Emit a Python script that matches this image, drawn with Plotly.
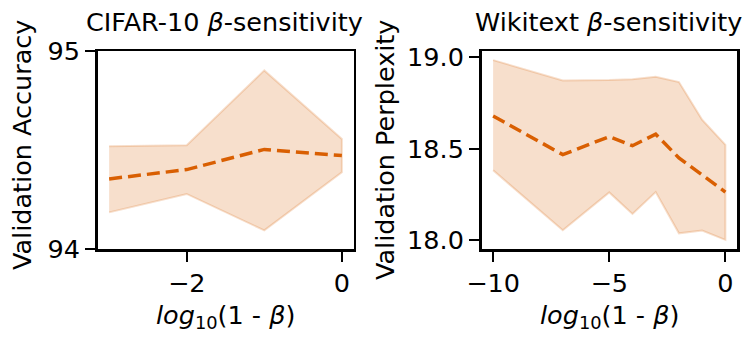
import plotly.graph_objects as go

# CIFAR-10 data
cifar_x = [-3, -2, -1, 0]
cifar_mean = [94.354, 94.401, 94.503, 94.472]
cifar_upper = [94.519, 94.524, 94.902, 94.556]
cifar_lower = [94.185, 94.278, 94.094, 94.388]

# Wikitext data
wiki_x = [-10, -7, -5, -4, -3, -2, -1, 0]
wiki_mean = [18.679, 18.467, 18.566, 18.516, 18.579, 18.449, 18.356, 18.262]
wiki_upper = [18.985, 18.874, 18.876, 18.880, 18.894, 18.865, 18.658, 18.521]
wiki_lower = [18.381, 18.053, 18.260, 18.142, 18.262, 18.036, 18.051, 18.000]

cifar_xticks = [-2, 0]
cifar_yticks = [94, 95]
wiki_xticks = [-10, -5, 0]
wiki_yticks = [18.0, 18.5, 19.0]

LINE = "#d95f02"
FILL = "rgba(217,95,2,0.2)"
FONT = "DejaVu Sans"
FS = 25.5

fig = go.Figure()

def add_panel(xs, mean, upper, lower, xa, ya):
    fig.add_trace(go.Scatter(
        x=list(xs) + list(xs)[::-1],
        y=list(upper) + list(lower)[::-1],
        fill="toself", fillcolor=FILL,
        line=dict(color=FILL, width=2),
        mode="lines", xaxis=xa, yaxis=ya, showlegend=False, hoverinfo="skip"))
    fig.add_trace(go.Scatter(
        x=xs, y=mean, mode="lines",
        line=dict(color=LINE, width=3.5, dash="13px,6px"),
        xaxis=xa, yaxis=ya, showlegend=False))

add_panel(cifar_x, cifar_mean, cifar_upper, cifar_lower, "x", "y")
add_panel(wiki_x, wiki_mean, wiki_upper, wiki_lower, "x2", "y2")

def fmt(v, d=0):
    s = f"{abs(v):.{d}f}"
    return ("\u2212" + s) if v < 0 else s

W, H = 747, 345

def px(x):
    return x / W

def py(y):
    return 1 - y / H

y_dom = [py(249), py(51)]
ax_common = dict(showline=True, mirror=True, linecolor="black", linewidth=2.5,
                 ticks="outside", ticklen=10, tickwidth=2, tickcolor="black",
                 showgrid=False, zeroline=False, automargin=False,
                 tickfont=dict(family=FONT, size=FS, color="black"))

fig.update_layout(
    width=W, height=H,
    margin=dict(l=0, r=0, t=0, b=0, pad=0, autoexpand=False),
    plot_bgcolor="white", paper_bgcolor="white",
    font=dict(family=FONT, size=FS, color="black"),
    xaxis=dict(domain=[px(97.5), px(353.5)], range=[-3.15, 0.15],
               tickvals=cifar_xticks, ticktext=[fmt(v) for v in cifar_xticks], anchor="y", **ax_common),
    yaxis=dict(domain=y_dom, range=[94, 95],
               tickvals=cifar_yticks, ticktext=[fmt(v) for v in cifar_yticks], anchor="x", **ax_common),
    xaxis2=dict(domain=[px(481.5), px(737)], range=[-10.5, 0.5],
                tickvals=wiki_xticks, ticktext=[fmt(v) for v in wiki_xticks], anchor="y2", **ax_common),
    yaxis2=dict(domain=y_dom, range=[17.95, 19.035],
                tickvals=wiki_yticks, ticktext=[fmt(v, 1) for v in wiki_yticks], anchor="x2", **ax_common),
)

xlabel = "<i>log</i><sub>10</sub>(1 - <i>β</i>)"
annots = [
    dict(text="CIFAR-10 <i>β</i>-sensitivity", x=px(224), y=py(22)),
    dict(text="Wikitext <i>β</i>-sensitivity", x=px(608), y=py(22)),
    dict(text=xlabel, x=px(225.5), y=py(316)),
    dict(text=xlabel, x=px(609), y=py(316)),
    dict(text="Validation Accuracy", x=px(22), y=py(145), textangle=-90),
    dict(text="Validation Perplexity", x=px(385), y=py(150), textangle=-90),
]
for a in annots:
    fig.add_annotation(xref="paper", yref="paper", showarrow=False,
                       xanchor="center", yanchor="middle",
                       font=dict(family=FONT, size=FS, color="black"), **a)

fig.write_html(
    "out.html",
    config={"displayModeBar": False, "staticPlot": True},
    post_script="document.body.style.margin='0';document.body.style.overflow='hidden';",
)
